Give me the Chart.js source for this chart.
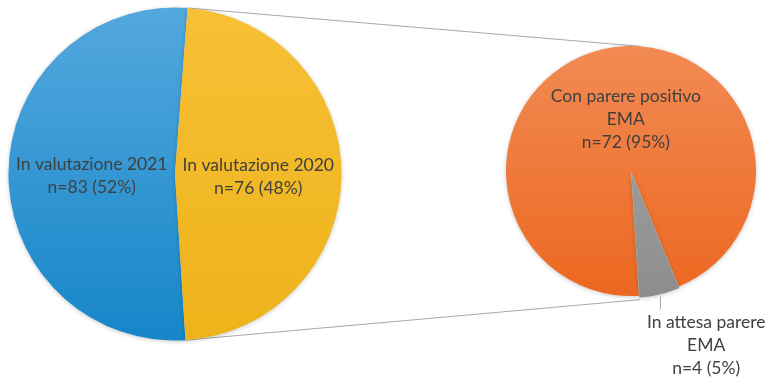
<!DOCTYPE html>
<html lang="it">
<head>
<meta charset="utf-8">
<script src="https://cdn.jsdelivr.net/npm/chart.js@4"></script>
<style>
  html, body { margin: 0; padding: 0; background: #fff; }
  #wrap { position: relative; width: 770px; height: 378px; overflow: hidden; }
  #wrap canvas { position: absolute; }
  #links { left: 0; top: 0; }
  #pie-main { left: 0; top: 0; }
  #pie-detail { left: 496px; top: 36px; }
</style>
</head>
<body>
<div id="wrap">
  <canvas id="links" width="770" height="378"></canvas>
  <canvas id="pie-main" width="350" height="348"></canvas>
  <canvas id="pie-detail" width="274" height="342"></canvas>
</div>
<script>
// torta principale: farmaci in valutazione per anno
const mainLabels = ['In valutazione 2021', 'In valutazione 2020'];
const mainValues = [83, 76];

// dettaglio del 2020: esito del parere EMA
const detailLabels = [['Con parere positivo', 'EMA'], ['In attesa parere', 'EMA']];
const detailValues = [72, 4];

// colori (alto, basso) per il gradiente verticale di ogni fetta
const mainColors = [['#55a9de', '#1485c8'], ['#f7c036', '#edb31a']];
const detailColors = [['#f28c55', '#ec661e'], ['#ababab', '#8c8c8c']];

const FONT = '17.5px Lato';
const TEXT_COLOR = '#404040';
const LINE_H = 23;

function vGrad(chart, top, bottom) {
  const a = chart.chartArea;
  if (!a) return bottom;
  const g = chart.ctx.createLinearGradient(0, a.top, 0, a.bottom);
  g.addColorStop(0, top);
  g.addColorStop(1, bottom);
  return g;
}

// ombra leggera sotto le fette
const softShadow = {
  id: 'softShadow',
  beforeDatasetsDraw(chart) {
    const ctx = chart.ctx;
    ctx.save();
    ctx.shadowColor = 'rgba(0,0,0,0.22)';
    ctx.shadowBlur = 4;
    ctx.shadowOffsetY = 1;
  },
  afterDatasetsDraw(chart) {
    chart.ctx.restore();
  }
};

// etichette: nome + n=.. (..%), dentro la fetta o fuori con linea guida
const sliceLabels = {
  id: 'sliceLabels',
  afterDatasetsDraw(chart, args, opts) {
    const ctx = chart.ctx;
    const meta = chart.getDatasetMeta(0);
    const values = chart.data.datasets[0].data;
    const total = values.reduce((s, v) => s + v, 0);
    ctx.save();
    ctx.font = FONT;
    ctx.fillStyle = TEXT_COLOR;
    ctx.textAlign = 'center';
    ctx.textBaseline = 'middle';
    meta.data.forEach((arc, i) => {
      const p = arc.getProps(['x', 'y', 'startAngle', 'endAngle', 'outerRadius'], true);
      const mid = (p.startAngle + p.endAngle) / 2;
      const lines = [].concat(chart.data.labels[i], `n=${values[i]} (${Math.round(values[i] / total * 100)}%)`);
      if (opts.outside === i) {
        const off = arc.options.offset || 0;
        const ax = p.x + (p.outerRadius + off) * Math.cos(mid);
        const ay = p.y + (p.outerRadius + off) * Math.sin(mid);
        ctx.strokeStyle = '#a6a6a6';
        ctx.lineWidth = 1;
        ctx.beginPath();
        ctx.moveTo(Math.round(ax) + 0.5, ay);
        ctx.lineTo(Math.round(ax) + 0.5, ay + opts.drop);
        ctx.stroke();
        lines.forEach((t, k) => ctx.fillText(t, ax + opts.dx, ay + opts.drop + 13 + k * LINE_H));
      } else {
        const nudge = (opts.nudge && opts.nudge[i]) || [0, 0];
        const cx = p.x + p.outerRadius * 0.5 * Math.cos(mid) + nudge[0];
        const cy = p.y + p.outerRadius * 0.5 * Math.sin(mid) + nudge[1];
        lines.forEach((t, k) => ctx.fillText(t, cx, cy + (k - (lines.length - 1) / 2) * LINE_H));
      }
    });
    ctx.restore();
  }
};

function pieChart(id, labels, values, colors, extra) {
  return new Chart(document.getElementById(id), {
    type: 'pie',
    data: {
      labels,
      datasets: [{
        data: values,
        backgroundColor: c => vGrad(c.chart, ...colors[c.dataIndex]),
        borderWidth: 0,
        hoverOffset: 0,
        offset: extra.offset || 0
      }]
    },
    options: {
      responsive: false,
      animation: false,
      events: [],
      rotation: 176.4,
      radius: extra.radius,
      layout: { padding: extra.padding || 0 },
      plugins: {
        legend: { display: false },
        tooltip: { enabled: false },
        sliceLabels: extra.labels
      }
    },
    plugins: [softShadow, sliceLabels]
  });
}

const mainChart = pieChart('pie-main', mainLabels, mainValues, mainColors, {
  radius: 166.5,
  labels: { nudge: [[0, 2], [0, 2]] }
});

// area del grafico 270x270: lo spazio sotto resta per l'etichetta esterna
const detailChart = pieChart('pie-detail', detailLabels, detailValues, detailColors, {
  radius: 125,
  offset: [0, 4],
  padding: { top: 0, left: 0, right: 4, bottom: 72 },
  labels: { outside: 1, drop: 13, dx: 46, nudge: [[9, 9]] }
});

// linee di collegamento fra la fetta 2020 e la torta di dettaglio
function drawLinks() {
  const ctx = document.getElementById('links').getContext('2d');
  const mainCanvas = mainChart.canvas, detCanvas = detailChart.canvas;
  const src = mainChart.getDatasetMeta(0).data[1].getProps(['x', 'y', 'startAngle', 'endAngle', 'outerRadius'], true);
  const dstArcs = detailChart.getDatasetMeta(0).data;
  const first = dstArcs[0].getProps(['x', 'y', 'startAngle', 'outerRadius'], true);
  const last = dstArcs[dstArcs.length - 1];
  const lp = last.getProps(['endAngle', 'startAngle'], true);
  const lOff = last.options.offset || 0;
  const lMid = (lp.startAngle + lp.endAngle) / 2;

  const pt = (c, x, y, r, a) => [c.offsetLeft + x + r * Math.cos(a), c.offsetTop + y + r * Math.sin(a)];
  const aTop = pt(mainCanvas, src.x, src.y, src.outerRadius, src.startAngle);
  const aBot = pt(mainCanvas, src.x, src.y, src.outerRadius, src.endAngle);
  const bTop = pt(detCanvas, first.x, first.y, first.outerRadius, src.startAngle);
  const bBot = pt(detCanvas, first.x + lOff * Math.cos(lMid), first.y + lOff * Math.sin(lMid), first.outerRadius, lp.endAngle);

  ctx.strokeStyle = '#a8a8a8';
  ctx.lineWidth = 1;
  ctx.beginPath();
  ctx.moveTo(...aTop); ctx.lineTo(...bTop);
  ctx.moveTo(...aBot); ctx.lineTo(...bBot);
  ctx.stroke();
}
drawLinks();
</script>
</body>
</html>
